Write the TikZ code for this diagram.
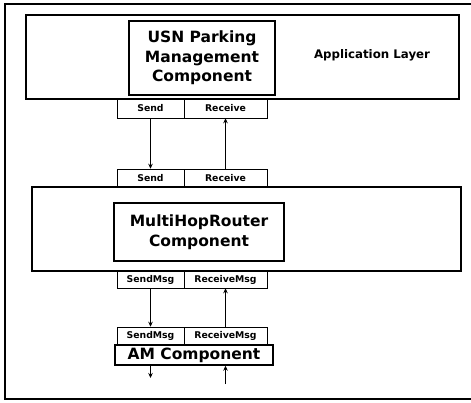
\documentclass[tikz,border=0pt]{standalone}
\usepackage{fontspec}
\setmainfont{DejaVu Sans}
\usepackage{tikz}
\usetikzlibrary{arrows.meta,positioning}
\tikzset{
  layer/.style={draw, line width=1.4pt, inner sep=0pt},
  comp/.style={draw, line width=1.4pt, inner sep=0pt, align=center,
    font=\fontsize{15.5}{19.5}\selectfont\bfseries},
  port/.style={draw, line width=0.5pt, inner sep=0pt, minimum height=18pt,
    font=\fontsize{9.3}{11}\selectfont\bfseries},
  link/.style={line width=0.9pt, -{Stealth[length=5pt,width=4.5pt]}}
}

\begin{document}
\begin{tikzpicture}[x=1pt,y=-1pt]
    \useasboundingbox (0,0) rectangle (471,403);
    % frame, open on the right
    \draw[line width=2pt] (471,4) -- (5,4) -- (5,399) -- (471,399);

    %, Application layer ---
    \node[layer, minimum width=433pt, minimum height=84pt] (app) at (242.5,57) {};
    \node[comp, minimum width=146pt, minimum height=74pt] (usn) at (202,58)
        {USN Parking\\Management\\Component};
    \node[font=\fontsize{11.8}{14}\selectfont\bfseries] (applabel) at (372,55) {Application Layer};
    \node[port, minimum width=67pt, minimum height=19pt] (appsend) at (150.5,108.5) {Send};
    \node[port, minimum width=83pt, minimum height=19pt] (apprecv) at (225.5,108.5) {Receive};

    %, Routing layer ---
    \node[port, minimum width=67pt] (mhsend) at (150.5,178) {Send};
    \node[port, minimum width=83pt] (mhrecv) at (225.5,178) {Receive};
    \node[layer, minimum width=429pt, minimum height=84pt] (mhlayer) at (246.5,229) {};
    \node[comp, minimum width=170pt, minimum height=58pt] (mhr) at (199,232)
        {MultiHopRouter\\Component};
    \node[port, minimum width=67pt, minimum height=17pt] (mhsendmsg) at (150.5,279.5) {SendMsg};
    \node[port, minimum width=83pt, minimum height=17pt] (mhrecvmsg) at (225.5,279.5) {ReceiveMsg};

    %, AM component ---
    \node[port, minimum width=67pt] (amsendmsg) at (150.5,336) {SendMsg};
    \node[port, minimum width=83pt] (amrecvmsg) at (225.5,336) {ReceiveMsg};
    \node[comp, minimum width=158pt, minimum height=20pt] (am) at (194,355) {AM Component};
    \coordinate (amout) at (150.5,378);
    \coordinate (amin) at (225.5,384);

    % interface wiring
    \draw[link] (appsend) -- (mhsend);
    \draw[link] (mhrecv) -- (apprecv);
    \draw[link] (mhsendmsg) -- (amsendmsg);
    \draw[link] (amrecvmsg) -- (mhrecvmsg);
    \draw[link] (am.south -| amout) -- (amout);
    \draw[link] (amin) -- (am.south -| amin);
\end{tikzpicture}
\end{document}
